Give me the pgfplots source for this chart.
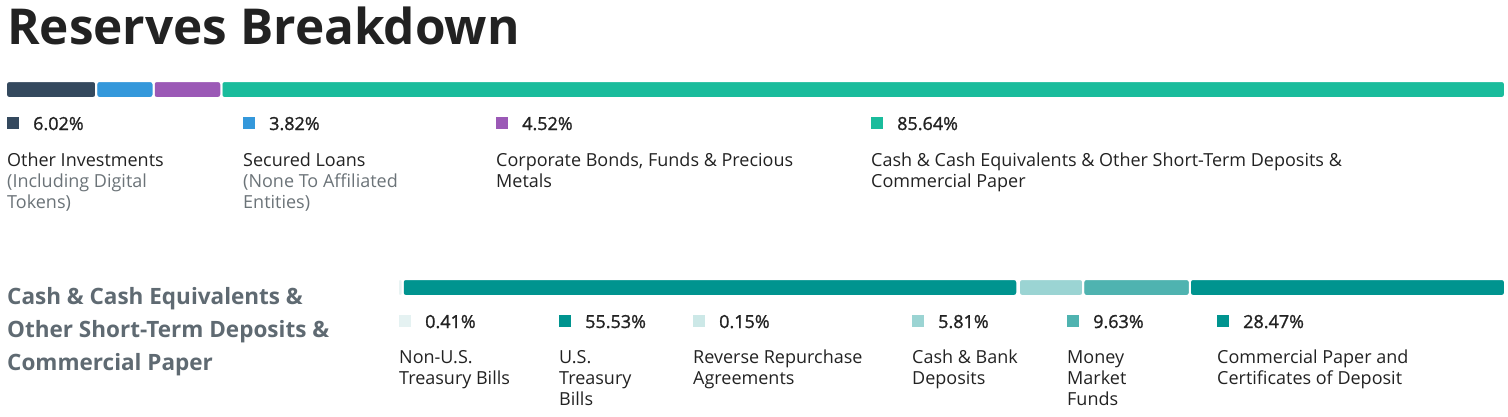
\documentclass[border=0pt]{standalone}
\usepackage{pgfplots}
\pgfplotsset{compat=1.18}
\usepackage{fontspec}
\setmainfont{Open Sans}
\newfontfamily\pctfont[FakeBold=1.2]{Open Sans}
\definecolor{cA}{HTML}{34495E}
\definecolor{cB}{HTML}{3498DB}
\definecolor{cC}{HTML}{9B59B6}
\definecolor{cD}{HTML}{1ABC9C}
\definecolor{tA}{HTML}{E5F2F2}
\definecolor{tB}{HTML}{00948F}
\definecolor{tC}{HTML}{CCE8E7}
\definecolor{tD}{HTML}{9BD4D3}
\definecolor{tE}{HTML}{4FB3B0}
\definecolor{tF}{HTML}{00948F}
\definecolor{txt}{HTML}{222222}
\definecolor{sub}{HTML}{6B7378}
\definecolor{head}{HTML}{5F6A72}
\begin{document}
\begin{tikzpicture}
\useasboundingbox (0pt,0pt) rectangle (1508pt,-416pt);
% title
\node[anchor=base west, inner sep=0pt, text=txt] at (7pt,-44pt) {\fontsize{49.5}{56}\selectfont\bfseries Reserves Breakdown};
% top bar
\begin{axis}[at={(6pt,-98pt)}, anchor=south west, width=1499pt, height=17pt, scale only axis,
  xbar stacked, xmin=0, xmax=100, ymin=-0.5, ymax=0.5, bar width=17pt, hide axis, clip=false]
\addplot[fill=cA, draw=white, line width=2pt, rounded corners=3pt] coordinates {(6.02,0)};
\addplot[fill=cB, draw=white, line width=2pt, rounded corners=3pt] coordinates {(3.82,0)};
\addplot[fill=cC, draw=white, line width=2pt, rounded corners=3pt] coordinates {(4.52,0)};
\addplot[fill=cD, draw=white, line width=2pt, rounded corners=3pt] coordinates {(85.64,0)};
\end{axis}
% bottom bar
\begin{axis}[at={(398pt,-296pt)}, anchor=south west, width=1107pt, height=17pt, scale only axis,
  xbar stacked, xmin=0, xmax=100, ymin=-0.5, ymax=0.5, bar width=17pt, hide axis, clip=false]
\addplot[fill=tA, draw=white, line width=2pt, rounded corners=2pt] coordinates {(0.41,0)};
\addplot[fill=tB, draw=white, line width=2pt, rounded corners=3pt] coordinates {(55.53,0)};
\addplot[fill=tC, draw=white, line width=2pt, rounded corners=1pt] coordinates {(0.15,0)};
\addplot[fill=tD, draw=white, line width=2pt, rounded corners=3pt] coordinates {(5.81,0)};
\addplot[fill=tE, draw=white, line width=2pt, rounded corners=3pt] coordinates {(9.63,0)};
\addplot[fill=tF, draw=white, line width=2pt, rounded corners=3pt] coordinates {(28.47,0)};
\end{axis}
\tikzset{pct/.style={anchor=base west, inner sep=0pt, text=txt, font=\pctfont\fontsize{18}{21}\selectfont},
         lab/.style={anchor=base west, inner sep=0pt, text=txt, font=\fontsize{18}{21}\selectfont},
         sl/.style={lab, text=sub}}
% top legend
\foreach \x/\c/\p in {7/cA/6.02, 243/cB/3.82, 496/cC/4.52, 871/cD/85.64}{
  \fill[\c] (\x pt,-117pt) rectangle ++(12pt,-12pt);
  \node[pct] at ({(\x+26)*1pt},-130pt) {\p\%};
}
\node[lab] at (7pt,-166pt) {Other Investments};
\node[sl] at (7pt,-187pt) {(Including Digital};
\node[sl] at (7pt,-208pt) {Tokens)};
\node[lab] at (243pt,-166pt) {Secured Loans};
\node[sl] at (243pt,-187pt) {(None To Affiliated};
\node[sl] at (243pt,-208pt) {Entities)};
\node[lab] at (496pt,-166pt) {Corporate Bonds, Funds \& Precious};
\node[lab] at (496pt,-187pt) {Metals};
\node[lab] at (871pt,-166pt) {Cash \& Cash Equivalents \& Other Short-Term Deposits \&};
\node[lab] at (871pt,-187pt) {Commercial Paper};
% section heading
\tikzset{hd/.style={anchor=base west, inner sep=0pt, text=head, font=\fontsize{22.5}{33}\selectfont\bfseries}}
\node[hd] at (7pt,-304pt) {Cash \& Cash Equivalents \&};
\node[hd] at (7pt,-337pt) {Other Short-Term Deposits \&};
\node[hd] at (7pt,-370pt) {Commercial Paper};
% bottom legend
\foreach \x/\c/\p in {399/tA/0.41, 559/tB/55.53, 693/tC/0.15, 912/tD/5.81, 1067/tE/9.63, 1217/tF/28.47}{
  \fill[\c] (\x pt,-315pt) rectangle ++(12pt,-12pt);
  \node[pct] at ({(\x+26)*1pt},-328pt) {\p\%};
}
\node[lab] at (399pt,-363pt) {Non-U.S.};
\node[lab] at (399pt,-384pt) {Treasury Bills};
\node[lab] at (559pt,-363pt) {U.S.};
\node[lab] at (559pt,-384pt) {Treasury};
\node[lab] at (559pt,-405pt) {Bills};
\node[lab] at (693pt,-363pt) {Reverse Repurchase};
\node[lab] at (693pt,-384pt) {Agreements};
\node[lab] at (912pt,-363pt) {Cash \& Bank};
\node[lab] at (912pt,-384pt) {Deposits};
\node[lab] at (1067pt,-363pt) {Money};
\node[lab] at (1067pt,-384pt) {Market};
\node[lab] at (1067pt,-405pt) {Funds};
\node[lab] at (1217pt,-363pt) {Commercial Paper and};
\node[lab] at (1217pt,-384pt) {Certificates of Deposit};
\end{tikzpicture}
\end{document}
